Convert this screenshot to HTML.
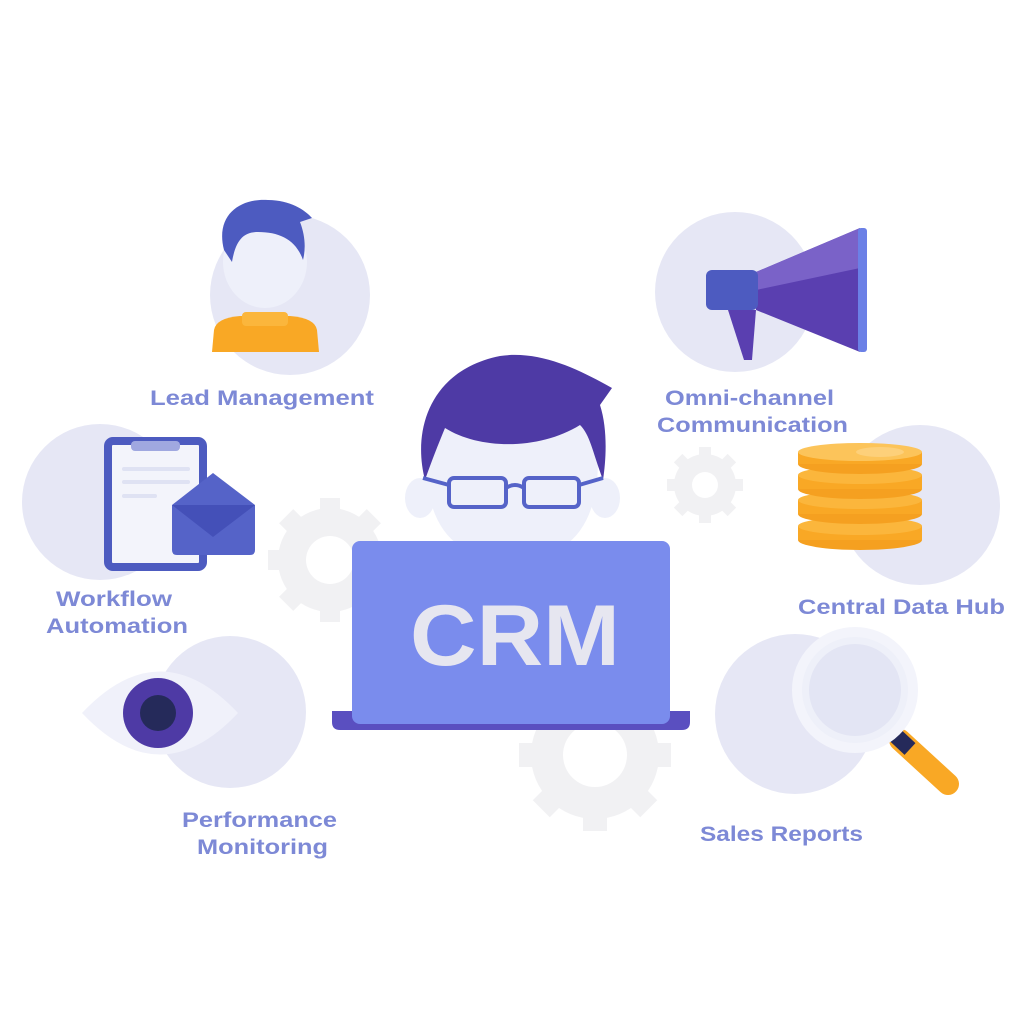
<!DOCTYPE html>
<html><head><meta charset="utf-8"><style>
html,body{margin:0;padding:0;background:#fff}
svg{display:block}
text{font-family:"Liberation Sans",sans-serif;font-weight:bold;fill:#7d89d6}
</style></head><body>
<svg width="1024" height="1024" viewBox="0 0 1024 1024" xmlns="http://www.w3.org/2000/svg">
<rect width="1024" height="1024" fill="#fff"/>
<!-- gears -->
<g fill="#f1f1f3">
<g transform="translate(330,560)"><circle r="52"/><rect x="-10" y="-62" width="20" height="124"/><rect x="-62" y="-10" width="124" height="20"/><rect x="-10" y="-62" width="20" height="124" transform="rotate(45)"/><rect x="-10" y="-62" width="20" height="124" transform="rotate(-45)"/><circle r="24" fill="#fff"/></g>
<g transform="translate(705,485)"><circle r="31"/><rect x="-6" y="-38" width="12" height="76"/><rect x="-38" y="-6" width="76" height="12"/><rect x="-6" y="-38" width="12" height="76" transform="rotate(45)"/><rect x="-6" y="-38" width="12" height="76" transform="rotate(-45)"/><circle r="13" fill="#fff"/></g>
<g transform="translate(595,755)"><circle r="64"/><rect x="-12" y="-76" width="24" height="152"/><rect x="-76" y="-12" width="152" height="24"/><rect x="-12" y="-76" width="24" height="152" transform="rotate(45)"/><rect x="-12" y="-76" width="24" height="152" transform="rotate(-45)"/><circle r="32" fill="#fff"/></g>
</g>
<!-- circles -->
<g fill="#e6e7f5">
<circle cx="290" cy="295" r="80"/>
<circle cx="735" cy="292" r="80"/>
<circle cx="920" cy="505" r="80"/>
<circle cx="100" cy="502" r="78"/>
<circle cx="230" cy="712" r="76"/>
<circle cx="795" cy="714" r="80"/>
</g>
<!-- lead person -->
<ellipse cx="265" cy="262" rx="42" ry="46" fill="#eef0fa"/>
<path d="M224 250 C215 215 240 198 268 200 C290 200 305 210 312 218 L300 222 C305 235 306 248 303 260 C296 240 280 232 258 232 C245 232 236 238 232 262 Z" fill="#4d5bc0"/>
<path d="M212 352 L214 330 Q216 318 240 316 L290 316 Q315 318 317 330 L319 352 Z" fill="#f9a825"/>
<rect x="242" y="312" width="46" height="14" rx="4" fill="#fbb63c"/>
<!-- megaphone -->
<path d="M756 272 L860 228 L860 352 L756 310 Z" fill="#5a3fb0"/>
<path d="M756 272 L860 228 L860 268 L756 290 Z" fill="#7a62c8"/>
<rect x="858" y="228" width="9" height="124" rx="3" fill="#6b80e6"/>
<path d="M728 310 L756 310 L752 360 L744 360 Z" fill="#5a3fb0"/>
<rect x="706" y="270" width="52" height="40" rx="6" fill="#4d5bc0"/>
<!-- coins -->
<g>
<ellipse cx="860" cy="540" rx="62" ry="10" fill="#f5a020"/>
<rect x="798" y="526" width="124" height="14" fill="#f9a825"/>
<ellipse cx="860" cy="526" rx="62" ry="9" fill="#fbb63c"/>
<ellipse cx="860" cy="514" rx="62" ry="10" fill="#f5a020"/>
<rect x="798" y="500" width="124" height="14" fill="#f9a825"/>
<ellipse cx="860" cy="500" rx="62" ry="9" fill="#fbb63c"/>
<ellipse cx="860" cy="489" rx="62" ry="10" fill="#f5a020"/>
<rect x="798" y="475" width="124" height="14" fill="#f9a825"/>
<ellipse cx="860" cy="475" rx="62" ry="9" fill="#fbb63c"/>
<ellipse cx="860" cy="464" rx="62" ry="10" fill="#f5a020"/>
<rect x="798" y="452" width="124" height="12" fill="#f9a825"/>
<ellipse cx="860" cy="452" rx="62" ry="9" fill="#fcc45a"/>
<ellipse cx="880" cy="452" rx="24" ry="5" fill="#fdd07a"/>
</g>
<!-- magnifier -->
<line x1="900" y1="740" x2="948" y2="784" stroke="#f9a825" stroke-width="22" stroke-linecap="round"/>
<line x1="895" y1="735" x2="910" y2="749" stroke="#252a5a" stroke-width="16"/>
<circle cx="855" cy="690" r="58" fill="#eef0f9" stroke="#f3f4fb" stroke-width="10"/>
<circle cx="855" cy="690" r="46" fill="#e3e5f4"/>
<!-- eye -->
<path d="M82 713 Q160 630 238 713 Q160 796 82 713 Z" fill="#f0f1fa"/>
<circle cx="158" cy="713" r="35" fill="#4e3aa5"/>
<circle cx="158" cy="713" r="18" fill="#252a5a"/>
<!-- clipboard -->
<rect x="108" y="441" width="95" height="126" rx="5" fill="#f3f4fb" stroke="#4d5bc0" stroke-width="8"/>
<rect x="131" y="441" width="49" height="10" rx="4" fill="#a0a8e0"/>
<g stroke="#dfe2f3" stroke-width="4" stroke-linecap="round"><line x1="124" y1="469" x2="188" y2="469"/><line x1="124" y1="482" x2="188" y2="482"/><line x1="124" y1="496" x2="155" y2="496"/></g>
<path d="M172 505 L213 473 L255 505 L255 550 Q255 555 250 555 L177 555 Q172 555 172 550 Z" fill="#5563c8"/>
<path d="M172 505 L213 537 L255 505 Z" fill="#4450b8"/>
<!-- central person -->
<ellipse cx="420" cy="498" rx="15" ry="20" fill="#eef0fa"/>
<ellipse cx="605" cy="498" rx="15" ry="20" fill="#eef0fa"/>
<path d="M426 460 Q426 560 512 560 Q598 560 598 460 L598 430 Q512 380 426 430 Z" fill="#eef0fa"/>
<path d="M425 480 C412 430 430 370 500 356 C540 350 580 370 612 388 L600 405 C608 430 606 460 603 480 C592 450 590 435 580 425 C540 450 480 450 445 428 C438 445 432 460 425 480 Z" fill="#4e3aa5"/>
<g fill="none" stroke="#5563c8" stroke-width="4">
<rect x="449" y="478" width="57" height="29" rx="5"/>
<rect x="524" y="478" width="55" height="29" rx="5"/>
<path d="M506 488 Q515 482 524 488"/>
<line x1="449" y1="485" x2="423" y2="478"/><line x1="579" y1="485" x2="603" y2="478"/>
</g>
<!-- laptop -->
<path d="M332 711 L690 711 L690 722 Q690 730 682 730 L340 730 Q332 730 332 722 Z" fill="#5a4fc0"/>
<rect x="352" y="541" width="318" height="183" rx="8" fill="#7a8ced"/>
<text x="410" y="665" font-size="86" textLength="210" lengthAdjust="spacingAndGlyphs" style="fill:#e6e6f0">CRM</text>
<!-- labels -->
<g font-size="21">
<text x="150" y="405" textLength="224" lengthAdjust="spacingAndGlyphs">Lead Management</text>
<text x="665" y="405" textLength="169" lengthAdjust="spacingAndGlyphs">Omni-channel</text>
<text x="657" y="432" textLength="191" lengthAdjust="spacingAndGlyphs">Communication</text>
<text x="56" y="606" textLength="116" lengthAdjust="spacingAndGlyphs">Workflow</text>
<text x="46" y="633" textLength="142" lengthAdjust="spacingAndGlyphs">Automation</text>
<text x="798" y="614" textLength="207" lengthAdjust="spacingAndGlyphs">Central Data Hub</text>
<text x="182" y="827" textLength="155" lengthAdjust="spacingAndGlyphs">Performance</text>
<text x="197" y="854" textLength="131" lengthAdjust="spacingAndGlyphs">Monitoring</text>
<text x="700" y="841" textLength="163" lengthAdjust="spacingAndGlyphs">Sales Reports</text>
</g>
</svg>
</body></html>
